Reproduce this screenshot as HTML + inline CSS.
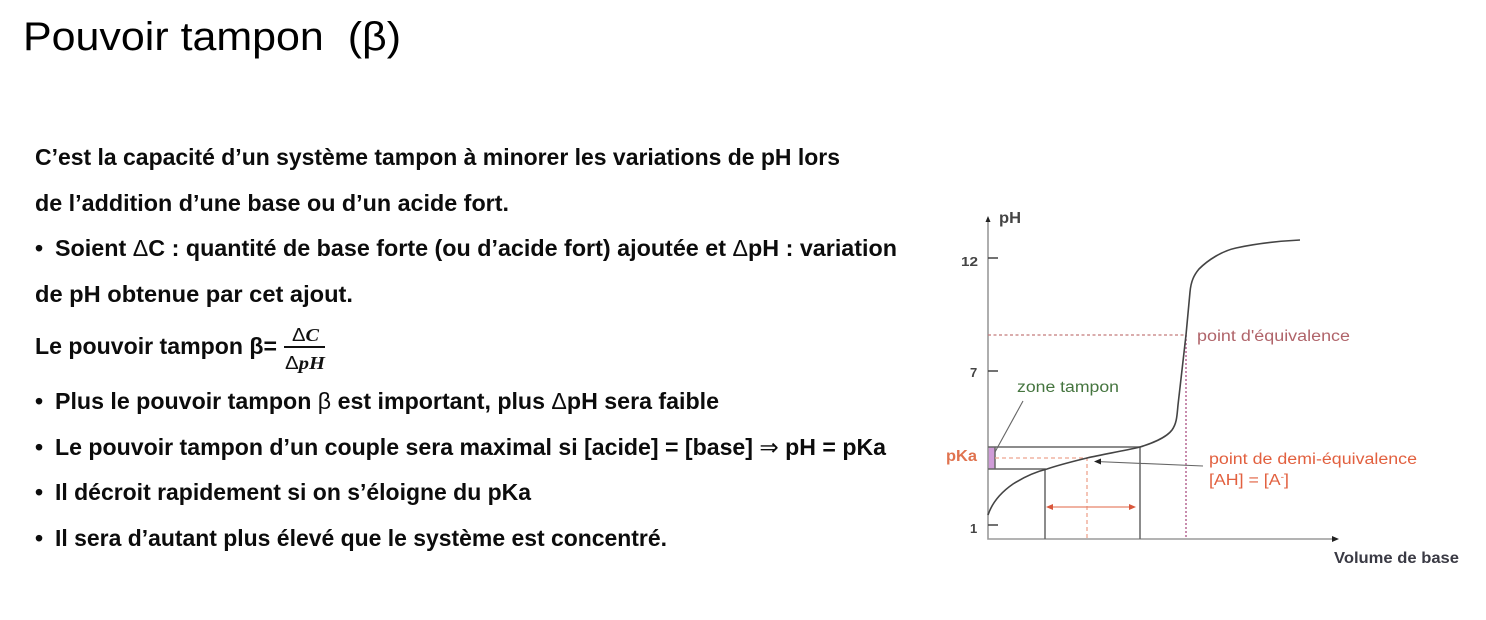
<!DOCTYPE html>
<html lang="fr">
<head>
<meta charset="utf-8">
<title>Pouvoir tampon</title>
<style>
html,body{margin:0;padding:0;background:#fff;width:1486px;height:620px;overflow:hidden}
svg{display:block}
.t{font-family:"Liberation Sans",sans-serif;font-weight:bold;font-size:23px;fill:#0c0c0c}
.n{font-weight:normal}
.g{font-family:"Liberation Sans",sans-serif;font-size:15.5px;-webkit-text-stroke:.45px currentColor}
.b{font-weight:bold;-webkit-text-stroke:0}
.m{font-family:"Liberation Serif",serif;font-weight:bold;font-style:italic;font-size:18px;fill:#111}
.u{font-family:"Liberation Sans",sans-serif;font-style:normal;font-weight:normal}
</style>
</head>
<body>
<svg width="1486" height="620" viewBox="0 0 1486 620" xmlns="http://www.w3.org/2000/svg">
<rect width="1486" height="620" fill="#fff"/>
<text x="23" y="50" font-family="Liberation Sans, sans-serif" font-size="40" fill="#000" textLength="378" lengthAdjust="spacingAndGlyphs" xml:space="preserve">Pouvoir tampon  (β)</text>

<text class="t" x="35" y="165" textLength="805" lengthAdjust="spacingAndGlyphs">C’est la capacité d’un système tampon à minorer les variations de pH lors</text>
<text class="t" x="35" y="211" textLength="474" lengthAdjust="spacingAndGlyphs">de l’addition d’une base ou d’un acide fort.</text>
<text class="t" x="35" y="256">•</text>
<text class="t" x="55" y="256" textLength="842" lengthAdjust="spacingAndGlyphs">Soient <tspan class="n">Δ</tspan>C : quantité de base forte (ou d’acide fort) ajoutée et <tspan class="n">Δ</tspan>pH : variation</text>
<text class="t" x="35" y="302" textLength="318" lengthAdjust="spacingAndGlyphs">de pH obtenue par cet ajout.</text>
<text class="t" x="35" y="354" textLength="242" lengthAdjust="spacingAndGlyphs">Le pouvoir tampon β=</text>
<text class="m" x="292" y="341" textLength="27" lengthAdjust="spacingAndGlyphs"><tspan class="u">Δ</tspan>C</text>
<rect x="284" y="346" width="41" height="2" fill="#111"/>
<text class="m" x="285" y="369" textLength="40" lengthAdjust="spacingAndGlyphs"><tspan class="u">Δ</tspan>pH</text>
<text class="t" x="35" y="409">•</text>
<text class="t" x="55" y="409" textLength="664" lengthAdjust="spacingAndGlyphs">Plus le pouvoir tampon <tspan class="n">β</tspan> est important, plus <tspan class="n">Δ</tspan>pH sera faible</text>
<text class="t" x="35" y="455">•</text>
<text class="t" x="55" y="455" textLength="831" lengthAdjust="spacingAndGlyphs">Le pouvoir tampon d’un couple sera maximal si [acide] = [base] <tspan class="n">⇒</tspan> pH = pKa</text>
<text class="t" x="35" y="500">•</text>
<text class="t" x="55" y="500" textLength="476" lengthAdjust="spacingAndGlyphs">Il décroit rapidement si on s’éloigne du pKa</text>
<text class="t" x="35" y="546">•</text>
<text class="t" x="55" y="546" textLength="612" lengthAdjust="spacingAndGlyphs">Il sera d’autant plus élevé que le système est concentré.</text>

<rect x="988" y="447" width="7" height="22" fill="#cf9bd8"/>
<path d="M988 221V539H1332" fill="none" stroke="#9a9a9a" stroke-width="1.6"/>
<path d="M985.500 222L988 216L990.500 222Z" fill="#222"/>
<path d="M1332 536L1339 539L1332 542Z" fill="#222"/>
<path d="M988 258H998M988 371H998M988 525H998" stroke="#444" stroke-width="1.6"/>

<path d="M988 447H1140V539M988 469H1045V539M995 447V469" fill="none" stroke="#666" stroke-width="1.5"/>

<path d="M988 335H1186" stroke="#c47b7b" stroke-width="1.2" stroke-dasharray="3 2.5" fill="none"/>
<path d="M1186 335V539" stroke="#bb6f99" stroke-width="1.6" stroke-dasharray="2 2" fill="none"/>
<path d="M995 458H1087V539" stroke="#eda58f" stroke-width="1.3" stroke-dasharray="4 3" fill="none"/>

<path d="M988 515C992 503 1000 493 1013 484C1024 477 1035 472 1047 469C1062 464 1075 461 1087 458C1105 454 1123 451 1140 447C1150 444 1166 438 1172 430C1177 423 1177 415 1178 405L1186 335L1190 292C1191 281 1194 275 1199 269C1208 260 1222 251 1236 248C1255 244 1280 241 1300 240" fill="none" stroke="#444" stroke-width="1.6"/>

<path d="M1023 401L995 452" stroke="#666" stroke-width="1.1" fill="none"/>
<path d="M1203 466L1096 461.500" stroke="#666" stroke-width="1.1" fill="none"/>
<path d="M1094 461.500L1101 458.500V464.500Z" fill="#222"/>

<path d="M1048 507H1134" stroke="#e8836b" stroke-width="1.2"/>
<path d="M1046 507L1053 504V510Z" fill="#d9573c"/>
<path d="M1136 507L1129 504V510Z" fill="#d9573c"/>

<g class="g">
<text class="b" x="999" y="223" fill="#444" textLength="22" lengthAdjust="spacingAndGlyphs">pH</text>
<text class="b" x="961" y="266" fill="#444" style="font-size:13px" textLength="17" lengthAdjust="spacingAndGlyphs">12</text>
<text class="b" x="970" y="377" fill="#444" style="font-size:13px">7</text>
<text class="b" x="970" y="533" fill="#444" style="font-size:13px">1</text>
<text class="b" x="946" y="461" fill="#e0734f" textLength="31" lengthAdjust="spacingAndGlyphs">pKa</text>
<text x="1017" y="392" fill="#45753f" color="#45753f" textLength="102" lengthAdjust="spacingAndGlyphs">zone tampon</text>
<text x="1197" y="341" fill="#b0646a" color="#b0646a" textLength="153" lengthAdjust="spacingAndGlyphs">point d'équivalence</text>
<text x="1209" y="464" fill="#e2603f" color="#e2603f" textLength="208" lengthAdjust="spacingAndGlyphs">point de demi-équivalence</text>
<text x="1209" y="485" fill="#e2603f" color="#e2603f" textLength="80" lengthAdjust="spacingAndGlyphs">[AH] = [A<tspan dy="-5" style="font-size:9px">-</tspan><tspan dy="5">]</tspan></text>
<text class="b" x="1334" y="563" fill="#3a3a44" textLength="125" lengthAdjust="spacingAndGlyphs">Volume de base</text>
</g>
</svg>
</body>
</html>
